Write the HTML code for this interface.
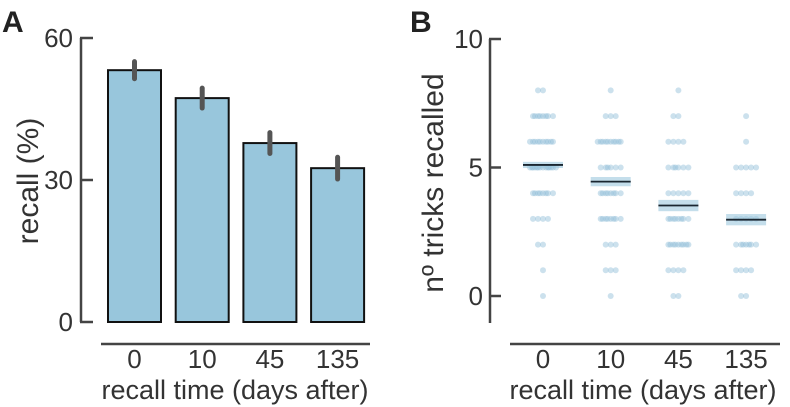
<!DOCTYPE html>
<html><head><meta charset="utf-8"><style>
body{margin:0;background:#fff;}
svg{display:block;font-family:"Liberation Sans",sans-serif;}
</style></head><body>
<svg id="chart" width="790" height="407" viewBox="0 0 790 407">
<g id="pa"></g>
<g id="pb"></g>
</svg>
<script>
const categories = ["0","10","45","135"];
const recallMeans = [53.2, 47.3, 37.8, 32.5];
const recallErr = [1.8, 2.1, 2.2, 2.3];
const recallTicks = [0, 30, 60];
const trickMeans = [5.1, 4.45, 3.52, 2.97];
const trickCI = [0.12, 0.18, 0.22, 0.22];
const trickTicks = [0, 5, 10];
const counts0 = [1,1,2,4,8,14,10,8,2];
const counts1 = [1,3,3,8,8,6,10,3,1];
const counts2 = [2,4,9,8,5,6,4,2,1];
const counts3 = [2,4,7,5,4,5,1,1,0];
const allCounts = [counts0, counts1, counts2, counts3];

const NS="http://www.w3.org/2000/svg";
function mk(parent, tag, attrs, text){const e=document.createElementNS(NS,tag);for(const k in attrs)e.setAttribute(k,attrs[k]);if(text!==undefined)e.textContent=text;parent.appendChild(e);return e;}
const axC="#444", txC="#333";
const FT=26, FA=27, FY=30;

// Panel A
const pa=document.getElementById('pa');
const yA=v=>322-(v/60)*284;
const xA=i=>108+i*67.7;
const bwA=53;
let t=mk(pa,'text',{x:2,y:32,'font-size':30,'font-weight':'bold',fill:'#222'},'A');

let l=mk(pa,'line',{x1:81,y1:yA(60),x2:81,y2:yA(0),stroke:axC,'stroke-width':2.5});

recallTicks.forEach(v=>{
  let tk=mk(pa,'line',{x1:80,y1:yA(v),x2:93,y2:yA(v),stroke:axC,'stroke-width':2.5});
  
  let tl=mk(pa,'text',{x:73,y:yA(v)+9,'font-size':FT,'text-anchor':'end',fill:txC},String(v));
  
});
t=mk(pa,'text',{x:0,y:0,'font-size':FY,'text-anchor':'middle',fill:txC,transform:'translate(38,181) rotate(-90)'},'recall (%)');

l=mk(pa,'line',{x1:101,y1:344,x2:370,y2:344,stroke:axC,'stroke-width':2.5});

categories.forEach((c,i)=>{
  const b=mk(pa,'rect',{x:xA(i),y:yA(recallMeans[i]),width:bwA,height:yA(0)-yA(recallMeans[i]),fill:'#98c6dc',stroke:'#111','stroke-width':2});
  
  const e=mk(pa,'line',{x1:xA(i)+bwA/2,x2:xA(i)+bwA/2,y1:yA(recallMeans[i]+recallErr[i]),y2:yA(recallMeans[i]-recallErr[i]),stroke:'#555','stroke-width':5,'stroke-linecap':'round'});
  
  const tl=mk(pa,'text',{x:xA(i)+bwA/2,y:368,'font-size':FT,'text-anchor':'middle',fill:txC},c);
  
});
t=mk(pa,'text',{x:235,y:399,'font-size':FA,'text-anchor':'middle',fill:txC},'recall time (days after)');


// Panel B
const pb=document.getElementById('pb');
const yB=v=>296-v*25.7;
const xB=i=>543+i*67.7;
t=mk(pb,'text',{x:410,y:32,'font-size':30,'font-weight':'bold',fill:'#222'},'B');

l=mk(pb,'line',{x1:490,y1:yB(10),x2:490,y2:323,stroke:axC,'stroke-width':2.5});

trickTicks.forEach(v=>{
  let tk=mk(pb,'line',{x1:489,y1:yB(v),x2:501,y2:yB(v),stroke:axC,'stroke-width':2.5});
  
  let tl=mk(pb,'text',{x:483,y:yB(v)+9,'font-size':FT,'text-anchor':'end',fill:txC},String(v));
  
});
t=mk(pb,'text',{x:0,y:0,'font-size':FY,'text-anchor':'middle',fill:txC,transform:'translate(443,183) rotate(-90)'},'nº tricks recalled');

l=mk(pb,'line',{x1:510,y1:344,x2:780,y2:344,stroke:axC,'stroke-width':2.5});

const jit=[0,-5,5,-10,10,-3,3,-8,8,-13,13,-6,6,-11,11,-1,1,-15,15,-4,4];
categories.forEach((c,i)=>{
  allCounts[i].forEach((n,v)=>{
    for(let k=0;k<n;k++){
      const p=mk(pb,'circle',{cx:xB(i)+jit[k%jit.length],cy:yB(v),r:3,fill:'#8dbdd6','fill-opacity':0.45});
      
    }
  });
  const band=mk(pb,'rect',{x:xB(i)-20,y:yB(trickMeans[i]+trickCI[i]),width:40,height:yB(trickMeans[i]-trickCI[i])-yB(trickMeans[i]+trickCI[i]),fill:'#9cc8de','fill-opacity':0.6});
  
  const m=mk(pb,'line',{x1:xB(i)-20,x2:xB(i)+20,y1:yB(trickMeans[i]),y2:yB(trickMeans[i]),stroke:'#1a2630','stroke-width':1.8});
  
  const tl=mk(pb,'text',{x:xB(i),y:368,'font-size':FT,'text-anchor':'middle',fill:txC},c);
  
});
t=mk(pb,'text',{x:643,y:399,'font-size':FA,'text-anchor':'middle',fill:txC},'recall time (days after)');

</script>
</body></html>
